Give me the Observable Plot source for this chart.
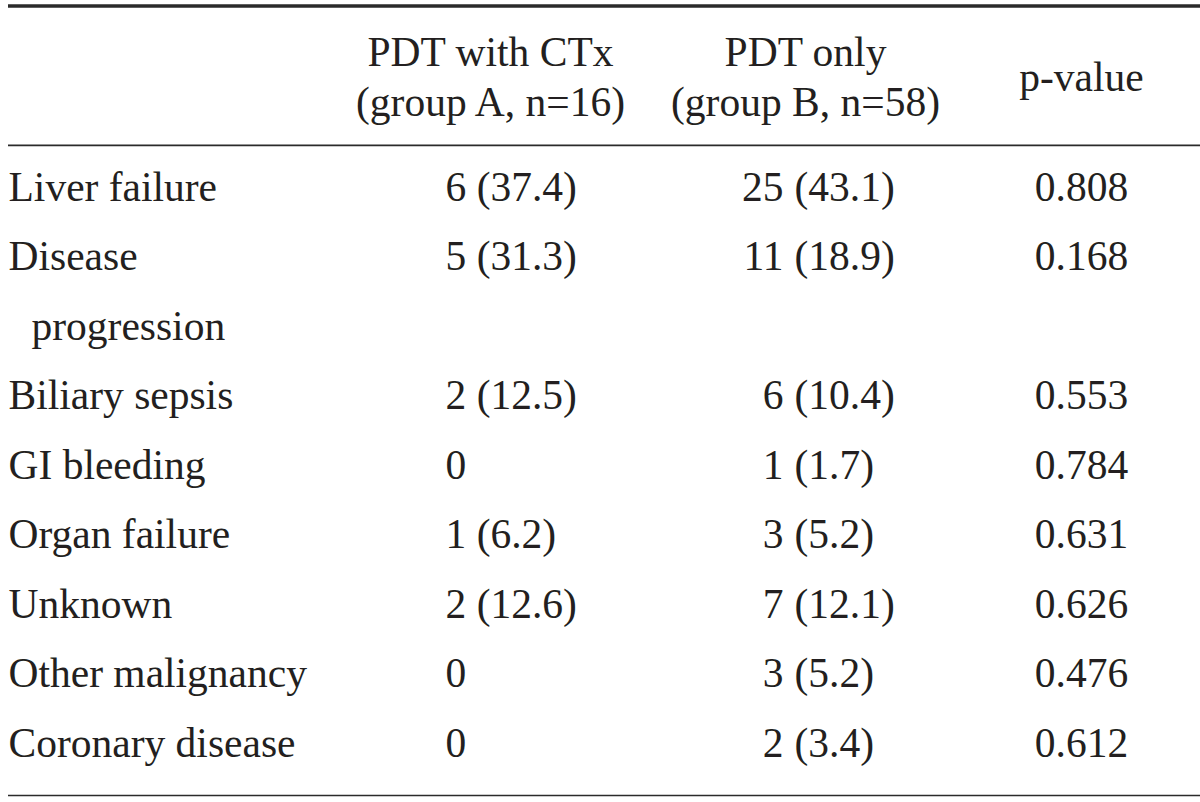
<!DOCTYPE html>
<html>
<head>
<meta charset="utf-8">
<script src="https://cdn.jsdelivr.net/npm/d3@7"></script>
<script src="https://cdn.jsdelivr.net/npm/@observablehq/plot@0.6"></script>
<style>
  html, body { margin: 0; padding: 0; background: #fff; }
  svg { display: block; }
</style>
</head>
<body>
<div id="chart"></div>
<script>
// ---- data ----
const causes = [
  ["Liver failure"],
  ["Disease", "progression"],
  ["Biliary sepsis"],
  ["GI bleeding"],
  ["Organ failure"],
  ["Unknown"],
  ["Other malignancy"],
  ["Coronary disease"]
];
const countsA = [6, 5, 2, 0, 1, 2, 0, 0];
const pctA = [37.4, 31.3, 12.5, null, 6.2, 12.6, null, null];
const countsB = [25, 11, 6, 1, 3, 7, 3, 2];
const pctB = [43.1, 18.9, 10.4, 1.7, 5.2, 12.1, 5.2, 3.4];
const pValues = [0.808, 0.168, 0.553, 0.784, 0.631, 0.626, 0.476, 0.612];
const headers = ["PDT with CTx\n(group A, n=16)", "PDT only\n(group B, n=58)", "p-value"];

// ---- layout ----
const W = 1200, H = 802;
const FONT = "Liberation Serif";
const FS = 41.5;
const ink = "#231f20";
const colX = {label: 8, a: 445, bEnd: 783, bStart: 794, p: 1081, headA: 490, headB: 805};

// line index for each row (a wrapped label takes 2 lines)
const rows = [];
let line = 0;
causes.forEach((c, i) => {
  rows.push({
    i, line, lines: c,
    a: countsA[i] + (pctA[i] == null ? "" : ` (${pctA[i].toFixed(1)})`),
    bCount: String(countsB[i]),
    bPct: `(${pctB[i].toFixed(1)})`,
    p: pValues[i].toFixed(3)
  });
  line += c.length;
});
const labelLines = rows.flatMap(r => r.lines.map((t, k) => ({text: t, line: r.line + k, indent: k > 0})));
const headerRows = headers.map((h, k) => ({text: h, x: [colX.headA, colX.headB, colX.p][k], line: -1.62}));
const rules = [
  {line: -2.61, w: 3.5},
  {line: -0.605, w: 1.6},
  {line: 8.75, w: 1.6}
];

const common = {fontFamily: FONT, fontSize: FS, fill: ink, lineAnchor: "middle"};

const chart = Plot.plot({
  width: W, height: H,
  margin: 0,
  style: {fontFamily: FONT, background: "#fff"},
  x: {domain: [0, W], range: [0, W], axis: null},
  y: {type: "linear", domain: [-2.69, 8.85], range: [0, H], axis: null},
  marks: [
    Plot.ruleY(rules, {y: "line", x1: () => 8, x2: () => W, stroke: "#2b2b2b", strokeWidth: "w"}),
    Plot.text(headerRows, {x: "x", y: "line", text: "text", textAnchor: "middle", lineHeight: 1.2, ...common}),
    Plot.text(labelLines, {x: d => colX.label + (d.indent ? 23 : 0), y: "line", text: "text", textAnchor: "start", ...common}),
    Plot.text(rows, {x: () => colX.a, y: "line", text: "a", textAnchor: "start", ...common}),
    Plot.text(rows, {x: () => colX.bEnd, y: "line", text: "bCount", textAnchor: "end", ...common}),
    Plot.text(rows, {x: () => colX.bStart, y: "line", text: "bPct", textAnchor: "start", ...common}),
    Plot.text(rows, {x: () => colX.p, y: "line", text: "p", textAnchor: "middle", ...common})
  ]
});
document.getElementById("chart").appendChild(chart);
</script>
</body>
</html>
